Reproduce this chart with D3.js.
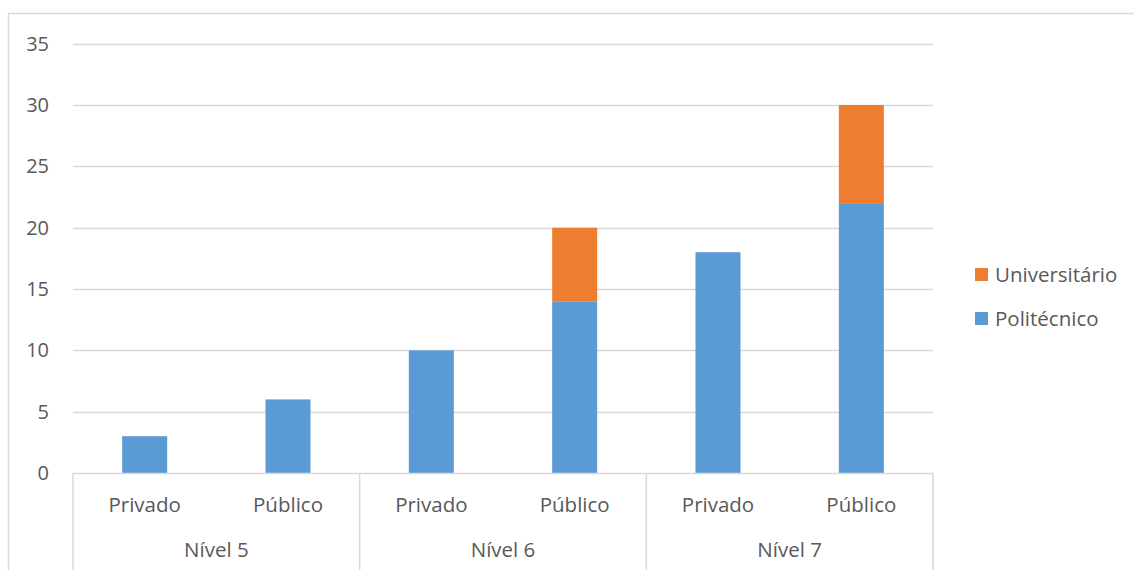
<!DOCTYPE html>
<html><head><meta charset="utf-8">
<script src="https://cdn.jsdelivr.net/npm/d3@7"></script>
<style>body{margin:0;background:#fff}svg{display:block}text{font-family:"Open Sans","Noto Sans",sans-serif;fill:#595959}</style>
</head><body><svg id="c" width="1134" height="570"></svg>
<script>
const groups = ["Nível 5","Nível 6","Nível 7"];
const types = ["Privado","Público"];
const series = ["Politécnico","Universitário"];
const politecnico = [3,6,10,14,18,22];
const universitario = [0,0,0,6,0,8];
const yTicks = [0,5,10,15,20,25,30,35];
const colors = ["#5B9BD5","#ED7D31"];

const svg = d3.select("#c");
const L=73, R=933, T=43.7, B=473;
svg.append("rect").attr("x",8.5).attr("y",13.5).attr("width",1200).attr("height",700)
  .attr("fill","none").attr("stroke","#d9d9d9").attr("stroke-width",1.5);

const cats = [];
groups.forEach(g=>types.forEach(t=>cats.push(g+"|"+t)));
const x = d3.scaleBand().domain(cats).range([L,R]).paddingInner(0.686).paddingOuter(0.343);
const xg = d3.scaleBand().domain(groups).range([L,R]);
const y = d3.scaleLinear().domain([0,35]).range([B,T]);

svg.append("g").selectAll("line").data(yTicks.filter(d=>d>0)).join("line")
  .attr("x1",L).attr("x2",R).attr("y1",d=>Math.round(y(d))+0.5).attr("y2",d=>Math.round(y(d))+0.5)
  .attr("stroke","#d9d9d9").attr("stroke-width",1.3);
svg.append("g").selectAll("text").data(yTicks).join("text")
  .attr("x",49).attr("y",d=>y(d)+7).attr("text-anchor","end").attr("font-size",20).text(d=>d);

const rows = cats.map((c,i)=>({cat:c,"Politécnico":politecnico[i],"Universitário":universitario[i]}));
const stack = d3.stack().keys(series)(rows);
svg.append("g").selectAll("g").data(stack).join("g").attr("fill",(d,i)=>colors[i])
  .selectAll("rect").data(d=>d.filter(p=>p[1]>p[0])).join("rect")
  .attr("x",d=>x(d.data.cat)).attr("width",x.bandwidth())
  .attr("y",d=>y(d[1])).attr("height",d=>y(d[0])-y(d[1]));

// axis line and separators
svg.append("line").attr("x1",L).attr("x2",R).attr("y1",B+0.5).attr("y2",B+0.5).attr("stroke","#d9d9d9").attr("stroke-width",1.5);
const seps = groups.map(g=>xg(g)).concat([R]);
svg.append("g").selectAll("line").data(seps).join("line")
  .attr("x1",d=>d).attr("x2",d=>d).attr("y1",B).attr("y2",570).attr("stroke","#d9d9d9").attr("stroke-width",1.5);
svg.append("g").selectAll("text").data(cats).join("text")
  .attr("x",d=>x(d)+x.bandwidth()/2).attr("y",512).attr("text-anchor","middle").attr("font-size",20.5)
  .text(d=>d.split("|")[1]);
svg.append("g").selectAll("text").data(groups).join("text")
  .attr("x",d=>xg(d)+xg.bandwidth()/2).attr("y",557).attr("text-anchor","middle").attr("font-size",20.5)
  .text(d=>d);

// legend
const leg = [{k:"Universitário",c:colors[1],y:268},{k:"Politécnico",c:colors[0],y:312}];
const lg = svg.append("g").selectAll("g").data(leg).join("g");
lg.append("rect").attr("x",975).attr("y",d=>d.y).attr("width",13).attr("height",13).attr("fill",d=>d.c);
lg.append("text").attr("x",995).attr("y",d=>d.y+14).attr("font-size",20.5).text(d=>d.k);
</script></body></html>
